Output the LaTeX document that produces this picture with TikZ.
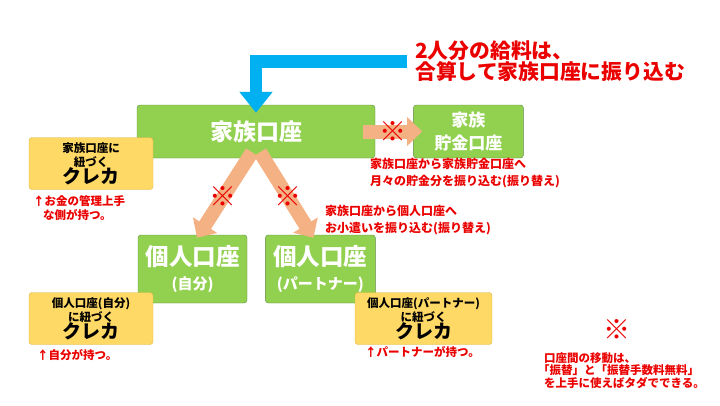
\documentclass[tikz,border=0pt]{standalone}
\usepackage{fontspec}
\setmainfont{Noto Sans CJK JP}
\usetikzlibrary{arrows.meta,positioning}

\definecolor{acctgreen}{RGB}{146,208,80}
\definecolor{acctedge}{RGB}{96,140,60}
\definecolor{cardyellow}{RGB}{255,217,102}
\definecolor{cardedge}{RGB}{220,182,70}
\definecolor{arroworange}{RGB}{244,177,131}
\definecolor{salaryblue}{RGB}{0,176,240}
\definecolor{notered}{RGB}{235,0,0}

\begin{document}
\begin{tikzpicture}[x=1pt,y=-1pt]
\tikzset{
acct/.style={rectangle, rounded corners=3pt, draw=acctedge, fill=acctgreen, text=white, align=center, inner sep=0pt},
card/.style={rectangle, rounded corners=3pt, draw=cardedge, fill=cardyellow, align=center, inner sep=0pt, minimum height=52pt, font=\bfseries\fontsize{11.5}{14}\selectfont},
fatarrow/.style={-{Triangle[width=28pt,length=15pt]}, line width=14pt, draw=arroworange},
bluearrow/.style={-{Triangle[width=32pt,length=21pt]}, line width=12.5pt, draw=salaryblue},
redlabel/.style={text=notered, font=\bfseries\fontsize{12}{17}\selectfont, align=left, inner sep=0pt},
kome/.style={text=notered, font=\bfseries\fontsize{27}{27}\selectfont, inner sep=0pt},
}
\useasboundingbox (0,0) rectangle (720,405);

\node [acct, minimum width=238pt, minimum height=53pt, font=\bfseries\fontsize{23}{26}\selectfont] (family) at (256,131.5) {家族口座};
\node [acct, minimum width=110pt, minimum height=53pt, font=\bfseries\fontsize{17}{23}\selectfont, right=38pt of family] (savings) {家族\\貯金口座};
\node [acct, minimum width=109pt, minimum height=68pt, font=\bfseries\fontsize{23.5}{24}\selectfont] (self) at (192.5,269) {個人口座\\{\fontsize{15}{18}\selectfont (自分)}};
\node [acct, minimum width=110pt, minimum height=68pt, font=\bfseries\fontsize{23.5}{24}\selectfont, right=18pt of self] (partner) {個人口座\\{\fontsize{15}{18}\selectfont (パートナー)}};

\node [card, minimum width=124pt] (card1) at (91,163.5) {家族口座に\\紐づく\\[-1pt]{\fontsize{19}{20}\selectfont クレカ}};
\node [card, minimum width=124pt] (card2) at (91,318.5) {個人口座(自分)\\に紐づく\\[-1pt]{\fontsize{19}{20}\selectfont クレカ}};
\node [card, minimum width=137pt] (card3) at (423.5,318.5) {個人口座(パートナー)\\に紐づく\\[-1pt]{\fontsize{19}{20}\selectfont クレカ}};

\node [anchor=west, text=notered, font=\bfseries\fontsize{20.8}{21}\selectfont, align=left, inner sep=0pt] (title) at (415,61.5) {2人分の給料は、\\合算して家族口座に振り込む};

\node [redlabel, anchor=west] (cap1) at (370,173.5) {家族口座から家族貯金口座へ\\月々の貯金分を振り込む(振り替え)};
\node [redlabel, anchor=west] (cap2) at (325,220) {家族口座から個人口座へ\\お小遣いを振り込む(振り替え)};
\node [redlabel, anchor=west, font=\bfseries\fontsize{11.5}{14}\selectfont] (note1) at (33,208) {↑お金の管理上手\\\hspace*{10pt}な側が持つ。};
\node [redlabel, anchor=west, font=\bfseries\fontsize{11.5}{14}\selectfont] (note2) at (37,355) {↑自分が持つ。};
\node [redlabel, anchor=west, font=\bfseries\fontsize{11.5}{14}\selectfont] (note3) at (365,352) {↑パートナーが持つ。};

\node [kome] (kome4) at (617,330) {※};
\node [redlabel, anchor=west, font=\bfseries\fontsize{11.5}{12.8}\selectfont] (movenote) at (544,370.5) {口座間の移動は、\\\hspace*{-6pt}「振替」と「振替手数料無料」\\を上手に使えばタダでできる。};

\draw[bluearrow] ([xshift=-8pt]title.west) -| ([yshift=-8pt]family.north);
\draw[fatarrow] ([xshift=-12pt]family.east) -- ([xshift=9pt]savings.west) node[kome, midway] {※};
\draw[fatarrow] ([xshift=-4pt,yshift=6pt]family.south) -- ([xshift=4.5pt,yshift=-3pt]self.north) node[kome, pos=0.52] {※};
\draw[fatarrow] ([xshift=4pt,yshift=6pt]family.south) -- ([xshift=-7pt,yshift=-3pt]partner.north) node[kome, pos=0.52] {※};
\end{tikzpicture}
\end{document}
